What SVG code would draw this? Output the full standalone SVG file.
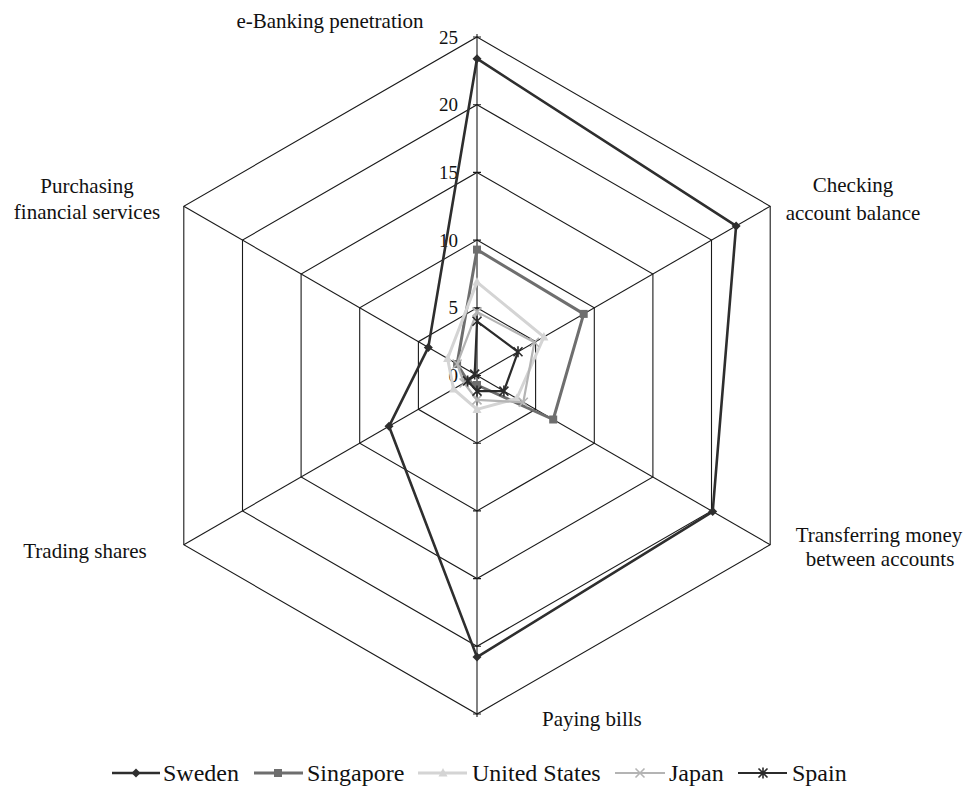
<svg xmlns="http://www.w3.org/2000/svg" width="965" height="787" viewBox="0 0 965 787">
<style>
.grid{fill:none;stroke:#1a1a1a;stroke-width:1.1}
.spoke{stroke:#1a1a1a;stroke-width:1.1}
.lbl{font-family:"Liberation Serif","Times New Roman",serif;font-size:21px;fill:#111}
.num{font-family:"Liberation Serif","Times New Roman",serif;font-size:19px;fill:#111;text-anchor:end}
.leg{font-family:"Liberation Serif","Times New Roman",serif;font-size:24px;fill:#111}
.s-sw{fill:none;stroke:#2e2e2e;stroke-width:2.6;stroke-linejoin:round}
.s-sg{fill:none;stroke:#6e6e6e;stroke-width:3;stroke-linejoin:round}
.s-us{fill:none;stroke:#d4d4d4;stroke-width:3;stroke-linejoin:round}
.s-jp{fill:none;stroke:#b4b4b4;stroke-width:2.2;stroke-linejoin:round}
.s-es{fill:none;stroke:#2b2b2b;stroke-width:2.2;stroke-linejoin:round}
</style>
<defs>
<path id="m-dia" d="M0,-4.5 L4.5,0 L0,4.5 L-4.5,0Z" fill="#2e2e2e"/>
<rect id="m-sq" x="-4" y="-4" width="8" height="8" fill="#6e6e6e"/>
<path id="m-tri" d="M0,-5 L4.5,3.5 L-4.5,3.5Z" fill="#d4d4d4"/>
<path id="m-x" d="M-4.5,-4.5 L4.5,4.5 M-4.5,4.5 L4.5,-4.5" stroke="#b4b4b4" stroke-width="1.6" fill="none"/>
<path id="m-ast" d="M-4.5,-4.5 L4.5,4.5 M-4.5,4.5 L4.5,-4.5 M0,-5.5 L0,5.5" stroke="#2b2b2b" stroke-width="1.6" fill="none"/>
</defs>
<rect width="965" height="787" fill="#fff"/>

<g id="grid">
<polygon class="grid" points="477,307.8 535.6,341.65 535.6,409.35 477,443.2 418.4,409.35 418.4,341.65"/>
<polygon class="grid" points="477,240.1 594.3,307.8 594.3,443.2 477,510.9 359.7,443.2 359.7,307.8"/>
<polygon class="grid" points="477,172.4 652.9,273.95 652.9,477.05 477,578.6 301.1,477.05 301.1,273.95"/>
<polygon class="grid" points="477,104.7 711.5,240.1 711.5,510.9 477,646.3 242.5,510.9 242.5,240.1"/>
<polygon class="grid" points="477,37 770.2,206.25 770.2,544.75 477,714 183.8,544.75 183.8,206.25"/>
<line class="spoke" x1="477" y1="375.5" x2="770.2" y2="206.25"/>
<line class="spoke" x1="477" y1="375.5" x2="770.2" y2="544.75"/>
<line class="spoke" x1="477" y1="375.5" x2="183.8" y2="544.75"/>
<line class="spoke" x1="477" y1="375.5" x2="183.8" y2="206.25"/>
<line class="spoke" x1="477" y1="34" x2="477" y2="717" stroke-width="1.5"/>
<path class="spoke" d="M473,37H481 M473,104.7H481 M473,172.4H481 M473,240.1H481 M473,307.8H481 M473,375.5H481 M473,443.2H481 M473,510.9H481 M473,578.6H481 M473,646.3H481 M473,714H481"/>
</g>

<g id="axis-values">
<text class="num" x="458" y="43.5">25</text>
<text class="num" x="458" y="111.2">20</text>
<text class="num" x="458" y="178.9">15</text>
<text class="num" x="458" y="246.6">10</text>
<text class="num" x="458" y="314.3">5</text>
<text class="num" x="458" y="382">0</text>
</g>

<g id="categories">
<text class="lbl" x="330" y="28" text-anchor="middle">e-Banking penetration</text>
<text class="lbl" x="853" y="192" text-anchor="middle">Checking</text>
<text class="lbl" x="853" y="220" text-anchor="middle">account balance</text>
<text class="lbl" x="879" y="542" text-anchor="middle">Transferring money</text>
<text class="lbl" x="880" y="566" text-anchor="middle">between accounts</text>
<text class="lbl" x="542" y="726">Paying bills</text>
<text class="lbl" x="85" y="558" text-anchor="middle">Trading shares</text>
<text class="lbl" x="87" y="193" text-anchor="middle">Purchasing</text>
<text class="lbl" x="87" y="219" text-anchor="middle">financial services</text>
</g>

<g id="series">
<g id="sweden">
<polygon class="s-sw" points="477,58.7 736.1,225.9 712.7,511.6 477,657.1 389,426.3 428.3,347.4"/>
<use href="#m-dia" x="477" y="58.7"/><use href="#m-dia" x="736.1" y="225.9"/><use href="#m-dia" x="712.7" y="511.6"/><use href="#m-dia" x="477" y="657.1"/><use href="#m-dia" x="389" y="426.3"/><use href="#m-dia" x="428.3" y="347.4"/>
</g>
<g id="singapore">
<polygon class="s-sg" points="477,249.6 583.7,313.9 553.2,419.5 477,385 467.6,380.9 457.1,364"/>
<use href="#m-sq" x="477" y="249.6"/><use href="#m-sq" x="583.7" y="313.9"/><use href="#m-sq" x="553.2" y="419.5"/><use href="#m-sq" x="477" y="385"/><use href="#m-sq" x="467.6" y="380.9"/><use href="#m-sq" x="457.1" y="364"/>
</g>
<g id="united-states">
<polygon class="s-us" points="477,282.1 543.9,336.9 516.8,398.5 477,409.4 453.5,389 447.6,358.5"/>
<use href="#m-tri" x="477" y="282.1"/><use href="#m-tri" x="543.9" y="336.9"/><use href="#m-tri" x="516.8" y="398.5"/><use href="#m-tri" x="477" y="409.4"/><use href="#m-tri" x="453.5" y="389"/><use href="#m-tri" x="447.6" y="358.5"/>
</g>
<g id="japan">
<polygon class="s-jp" points="477,311.9 534.4,342.3 523.3,402.3 477,399.9 464.1,383 457.1,364"/>
<use href="#m-x" x="477" y="311.9"/><use href="#m-x" x="534.4" y="342.3"/><use href="#m-x" x="523.3" y="402.3"/><use href="#m-x" x="477" y="399.9"/><use href="#m-x" x="464.1" y="383"/><use href="#m-x" x="457.1" y="364"/>
</g>
<g id="spain">
<polygon class="s-es" points="477,321.3 518,351.8 503.9,391.1 477,391.1 467.6,380.9 474.7,374.1"/>
<use href="#m-ast" x="477" y="321.3"/><use href="#m-ast" x="518" y="351.8"/><use href="#m-ast" x="503.9" y="391.1"/><use href="#m-ast" x="477" y="391.1"/><use href="#m-ast" x="467.6" y="380.9"/><use href="#m-ast" x="474.7" y="374.1"/>
</g>
</g>

<g id="legend">
<line x1="112" y1="773" x2="160" y2="773" stroke="#2e2e2e" stroke-width="2.6"/><use href="#m-dia" x="136" y="773"/>
<text class="leg" x="163" y="781">Sweden</text>
<line x1="254" y1="773" x2="303" y2="773" stroke="#6e6e6e" stroke-width="3"/><use href="#m-sq" x="278" y="773"/>
<text class="leg" x="307" y="781">Singapore</text>
<line x1="418" y1="773" x2="467" y2="773" stroke="#d4d4d4" stroke-width="3"/><use href="#m-tri" x="443" y="773"/>
<text class="leg" x="472" y="781">United States</text>
<line x1="615" y1="773" x2="665" y2="773" stroke="#b4b4b4" stroke-width="2.2"/><use href="#m-x" x="640" y="773"/>
<text class="leg" x="669" y="781">Japan</text>
<line x1="738" y1="773" x2="787" y2="773" stroke="#2b2b2b" stroke-width="2.2"/><use href="#m-ast" x="763" y="773"/>
<text class="leg" x="792" y="781">Spain</text>
</g>
</svg>
